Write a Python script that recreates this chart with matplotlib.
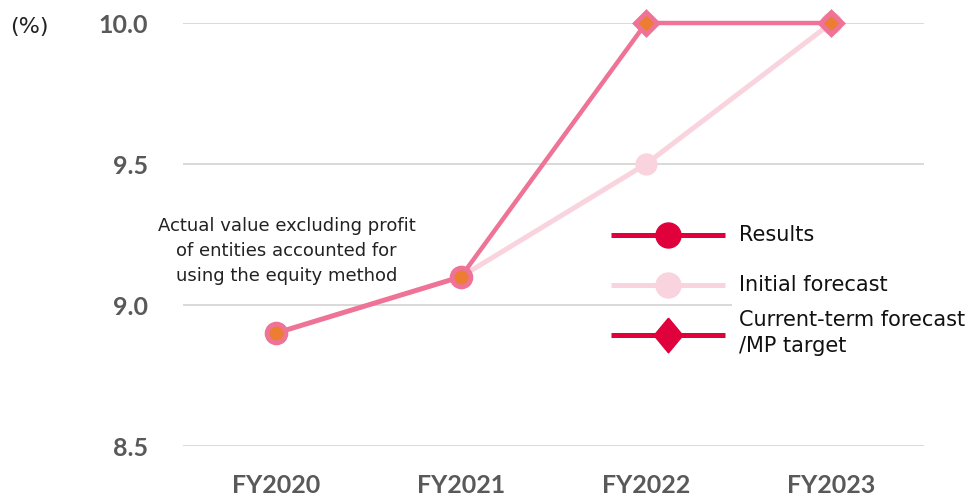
import numpy as np
import matplotlib.pyplot as plt

years = ['FY2020', 'FY2021', 'FY2022', 'FY2023']
results = [8.9, 9.1, np.nan, np.nan]
initial_forecast = [np.nan, 9.1, 9.5, 10.0]
current_forecast = [np.nan, 9.1, 10.0, 10.0]
yticks = [8.5, 9.0, 9.5, 10.0]

note = 'Actual value excluding profit\nof entities accounted for\nusing the equity method'
legend_labels = ['Results', 'Initial forecast', 'Current-term forecast\n/MP target']

pink = '#EE7396'
light_pink = '#F9D4DF'
orange = '#ED7D31'
crimson = '#DF003C'
gray = '#595959'

plt.rcParams['font.family'] = ['DejaVu Sans']

fig = plt.figure(figsize=(9.71, 4.96), dpi=100)
ax = fig.add_axes([0.1885, 0.1008, 0.763, 0.8528])
x = np.arange(len(years))

# initial forecast (light line underneath)
ax.plot(x, initial_forecast, color=light_pink, lw=3.6, marker='o', ms=15,
        mfc=light_pink, mec=light_pink, zorder=3, clip_on=False)
# current-term forecast / MP target
ax.plot(x, current_forecast, color=pink, lw=3.2, zorder=4, clip_on=False)
ax.plot(x[2:], current_forecast[2:], ls='none', marker='D', ms=11.5,
        mfc=orange, mec=pink, mew=3.5, zorder=5, clip_on=False)
# results
ax.plot(x, results, color=pink, lw=3.6, marker='o', ms=13.5,
        mfc=orange, mec=pink, mew=3.5, zorder=6, clip_on=False)

ax.text(0.06, 9.19, note, ha='center', va='center', fontsize=13,
        linespacing=1.5, color='#222222', zorder=7)

ax.set_xlim(-0.5, 3.5)
ax.set_ylim(8.5, 10.0)
ax.set_xticks(x)
ax.set_xticklabels(years)
ax.set_yticks(yticks)
ax.set_yticklabels([f'{v:.1f}' for v in yticks])
for lab in ax.get_xticklabels() + ax.get_yticklabels():
    lab.set_family('Lato')
    lab.set_fontweight('bold')
    lab.set_fontsize(18)
    lab.set_color(gray)
ax.tick_params(axis='both', length=0)
ax.tick_params(axis='y', pad=25)
ax.tick_params(axis='x', pad=20)
ax.grid(axis='y', color='#D9D9D9', lw=1.4, zorder=0)
ax.set_axisbelow(True)
for s in ax.spines.values():
    s.set_visible(False)

fig.text(0.03, 0.945, '(%)', fontsize=16, color='#222222', va='center', ha='center')

# legend drawn by hand: key line, marker, label
tall_diamond = [(0, 1), (0.83, 0), (0, -1), (-0.83, 0), (0, 1)]
keys = [
    (crimson, 'o', 18, 0.4988, 0.4988),
    (light_pink, 'o', 18, 0.3806, 0.3806),
    (crimson, tall_diamond, 25, 0.2624, 0.267),
]
for (col, mk, size, ky, ty), label in zip(keys, legend_labels):
    ax.plot([0.5776, 0.7314], [ky, ky], color=col, lw=3.6, transform=ax.transAxes,
            clip_on=False, zorder=8, solid_capstyle='butt')
    ax.plot([0.6545], [ky], marker=mk, ms=size, color=col, mec=col, transform=ax.transAxes,
            clip_on=False, zorder=9)
    ax.text(0.7503, ty, label, transform=ax.transAxes, fontsize=15, va='center', ha='left',
            linespacing=1.35, color='#111111', zorder=9,
            bbox=dict(facecolor='white', edgecolor='none', pad=5))

fig.savefig('out.png', dpi=100)
